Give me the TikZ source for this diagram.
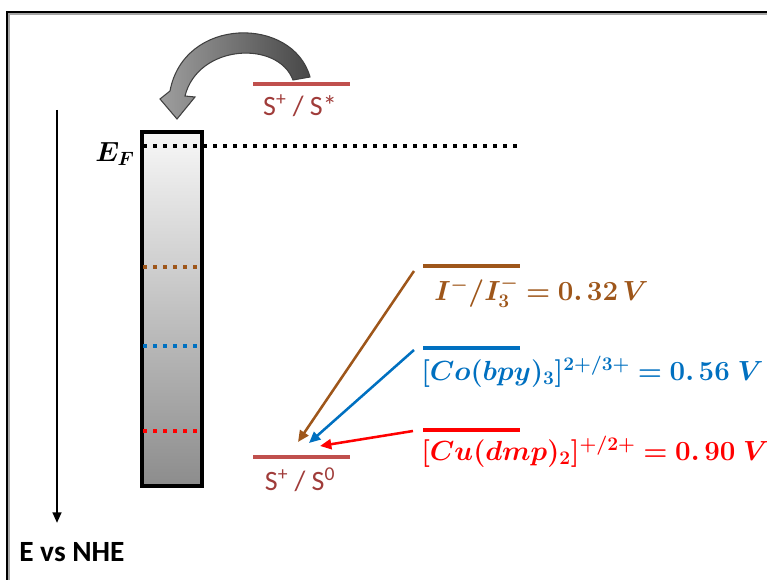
\documentclass[tikz,border=0pt]{standalone}
\usepackage{amsmath}
\usepackage{bm}
\usepackage[no-math]{fontspec}
\newfontfamily\calibri{Carlito}
\usetikzlibrary{arrows.meta}
\definecolor{brn}{RGB}{158,86,26}
\definecolor{blu}{RGB}{0,112,192}
\definecolor{rd}{RGB}{255,0,0}
\definecolor{sline}{RGB}{192,80,77}
\definecolor{stext}{RGB}{160,60,58}
\tikzset{
  level/.style={line width=3pt},
  dotline/.style={line width=3pt, dash pattern=on 3pt off 4.5pt},
  transfer/.style={line width=1.9pt, -{Triangle[length=8.5pt,width=7.5pt]}},
  mathlabel/.style={anchor=west, inner sep=0pt, font=\fontsize{20}{24}\selectfont},
  slabel/.style={text=stext, inner sep=0pt, font=\calibri\fontsize{21}{25}\selectfont}
}
\begin{document}
\begin{tikzpicture}[x=0.75pt,y=-0.75pt]
\useasboundingbox (0,0) rectangle (767,580);
% frame
\draw[black!35, line width=1pt] (9,582) -- (9,14) -- (769,14);
\draw[line width=1.4pt] (7,582) -- (7,12) -- (769,12);

% energy axis
\coordinate (axtop) at (57,110);
\coordinate (axbot) at (57,523);
\draw[line width=1.7pt, -{Triangle[length=8pt,width=6.5pt]}] (axtop) -- (axbot);
\node[anchor=west, inner sep=0pt, font=\calibri\bfseries\fontsize{22}{26}\selectfont] (axlab) at (19,552) {E vs NHE};

% semiconductor box
\shadedraw[top color=white!97!black, bottom color=black!45, line width=2.3pt] (142,132) rectangle (202,486);
\node[inner sep=0pt, minimum width=60*0.75pt, minimum height=354*0.75pt] (sc) at (172,309) {};

% Fermi level
\draw[dotline] (143,146) -- (521,146);
\node[inner sep=0pt, font=\fontsize{21}{24}\selectfont] (ef) at (115,154) {$\bm{E_F}$};

% dotted levels in box
\draw[dotline, brn] (143,267) -- (201,267);
\draw[dotline, blu] (143,346) -- (201,346);
\draw[dotline, rd]  (143,431) -- (201,431);

% dye levels
\draw[level, sline] (253,84) -- (350,84);
\node[slabel] (sstar) at (300,106) {S\textsuperscript{+} / S*};
\draw[level, sline] (253,457) -- (350,457);
\node[slabel] (szero) at (300,480) {S\textsuperscript{+} / S\textsuperscript{0}};

% curved injection arrow
\shadedraw[left color=black!38, right color=black!72, draw=black!75, line width=0.8pt]
  (310,77) .. controls (293,16) and (184,16) .. (170,91)
  -- (160,99) -- (177,119) -- (195,97) -- (185,96)
  .. controls (198,44) and (278,40) .. (293,80) -- cycle;

% redox levels
\draw[level, brn] (423,266) -- (520,266);
\node[mathlabel, text=brn] (iod) at (434,292) {$\bm{I^-/I_3^- = 0.\,32\,V}$};
\draw[level, blu] (423,348) -- (520,348);
\node[mathlabel, text=blu] (cob) at (421,372) {$\bm{[Co(bpy)_3]^{2+/3+} = 0.\,56\;V}$};
\draw[level, rd] (423,430) -- (520,430);
\node[mathlabel, text=rd] (cop) at (421,452) {$\bm{[Cu(dmp)_2]^{+/2+} = 0.\,90\;V}$};

% regeneration arrows
\coordinate (iodS) at (414,271);
\coordinate (cobS) at (414,350);
\coordinate (copS) at (413,431);
\coordinate (iodE) at (298,442);
\coordinate (cobE) at (309,443);
\coordinate (copE) at (320,446);
\draw[transfer, brn] (iodS) -- (iodE);
\draw[transfer, blu] (cobS) -- (cobE);
\draw[transfer, rd] (copS) -- (copE);
\end{tikzpicture}
\end{document}
